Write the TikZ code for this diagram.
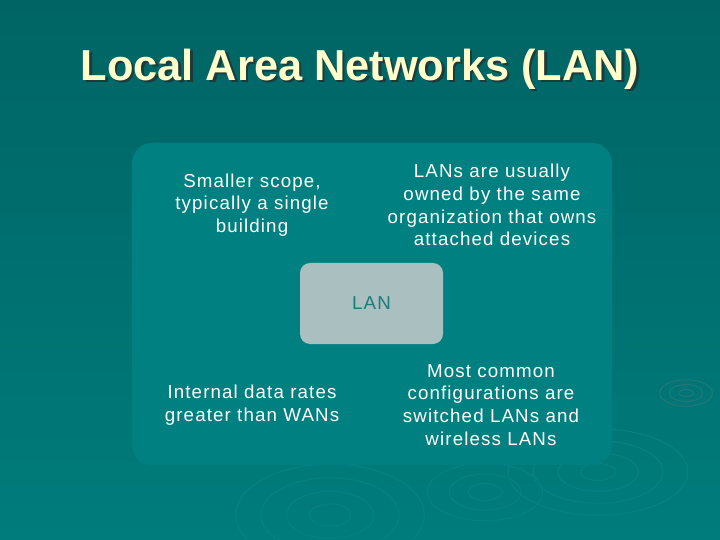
\documentclass[tikz,border=0pt]{standalone}
\usepackage{fontspec}
\setmainfont{Liberation Sans}
\newfontfamily\bodyfont[LetterSpace=6]{Liberation Sans}
\begin{document}
\begin{tikzpicture}[x=1bp,y=-1bp,
  bodytext/.style={text=white,align=center,font=\bodyfont\fontsize{18.8}{22.8}\selectfont},
  ripple/.style={draw=ripplec,line width=1.2bp}]
\definecolor{bgtop}{HTML}{006464}
\definecolor{bgbot}{HTML}{007C7C}
\definecolor{panelc}{HTML}{008080}
\definecolor{lanfill}{HTML}{A9BFC0}
\definecolor{lantext}{HTML}{1F7A7A}
\definecolor{titlec}{HTML}{FFFFCC}
\definecolor{shadowc}{HTML}{1E3A3A}
\definecolor{ripplec}{HTML}{078080}
\useasboundingbox (0,0) rectangle (720,540);
\shade[top color=bgtop,bottom color=bgbot] (0,0) rectangle (720,540);
% faint ripples
\foreach \r in {18,38,60,82} {\draw[ripple] (330,515) ellipse ({\r*1.15} and {\r*0.62});}
\foreach \r in {14,30,48} {\draw[ripple] (485,492) ellipse ({\r*1.2} and {\r*0.6});}
\foreach \r in {14,32,52,72} {\draw[ripple] (598,472) ellipse ({\r*1.25} and {\r*0.6});}
\foreach \r in {6,14,22} {\draw[ripple,draw=bgtop!88!white] (686,393) ellipse ({\r*1.2} and {\r*0.6});}
% title
\node[text=shadowc,font=\fontsize{43.5}{50}\bfseries\selectfont] (titleshadow) at (362.5,71.5) {Local Area Networks (LAN)};
\node[text=titlec,font=\fontsize{43.5}{50}\bfseries\selectfont] (title) at (360,69) {Local Area Networks (LAN)};
% panel
\node[fill=panelc,rounded corners=20bp,minimum width=480bp,minimum height=322bp,inner sep=0] (panel) at (372,304) {};
% center
\node[fill=lanfill,rounded corners=10bp,minimum width=143bp,minimum height=81bp,inner sep=0,
  text=lantext,font=\bodyfont\fontsize{18.8}{22}\selectfont] (lan) at (371.5,303.5) {LAN};
% texts
\node[bodytext] (tl) at (252,205) {Smaller scope,\\typically a single\\building};
\node[bodytext] (tr) at (492,205) {LANs are usually\\owned by the same\\organization that owns\\attached devices};
\node[bodytext] (bl) at (252,405) {Internal data rates\\greater than WANs};
\node[bodytext] (br) at (491,405) {Most common\\configurations are\\switched LANs and\\wireless LANs};
\end{tikzpicture}
\end{document}
